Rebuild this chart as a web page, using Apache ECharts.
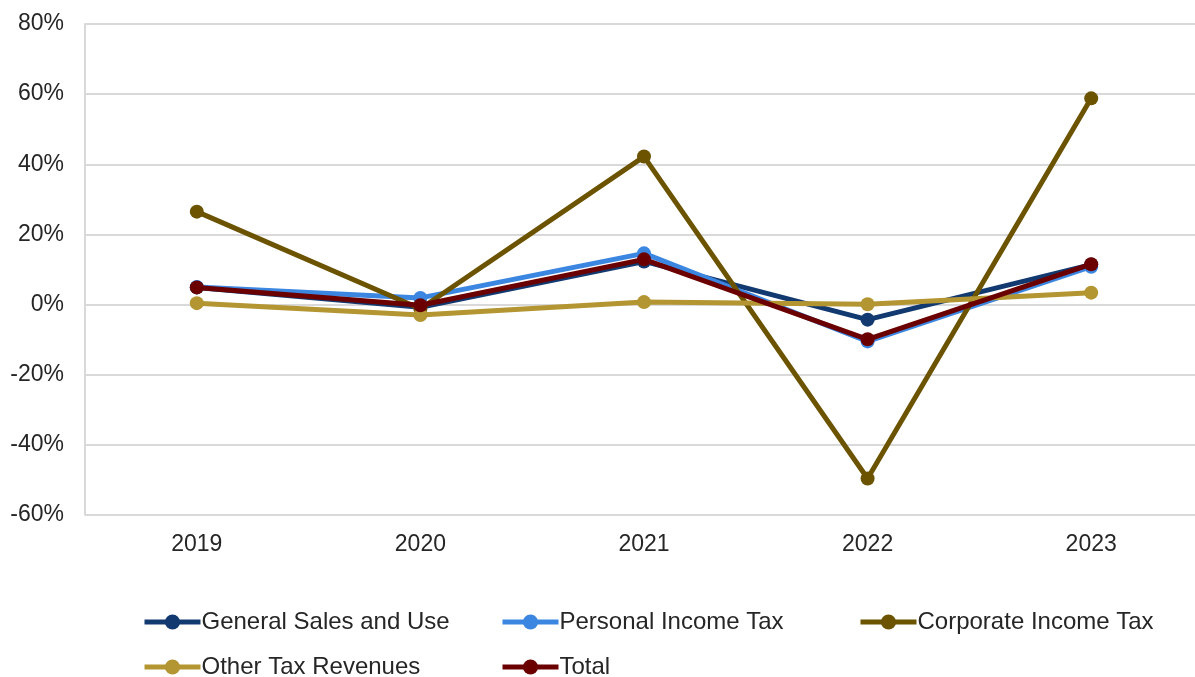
<!DOCTYPE html>
<html><head><meta charset="utf-8">
<script src="https://cdn.jsdelivr.net/npm/echarts@6/dist/echarts.min.js"></script>
<style>html,body{margin:0;padding:0;background:#fff}#c{width:1195px;height:677px}</style>
</head><body><div id="c"></div>
<script>
var categories = ['2019','2020','2021','2022','2023'];
var seriesNames = ['General Sales and Use','Personal Income Tax','Corporate Income Tax','Other Tax Revenues','Total'];
var generalSales = [4.9, -0.8, 12.3, -4.3, 11.4];
var personalIncome = [5.0, 1.9, 14.6, -10.5, 10.8];
var corporateIncome = [26.5, -1.2, 42.2, -49.6, 58.8];
var otherTax = [0.4, -3.0, 0.7, 0.1, 3.4];
var total = [4.9, -0.2, 12.9, -9.9, 11.5];
var yTicks = {min: -60, max: 80, interval: 20};
var colors = ['#123A70', '#3A86E0', '#6B5300', '#B39531', '#6B0000'];
var dataList = [generalSales, personalIncome, corporateIncome, otherTax, total];

var chart = echarts.init(document.getElementById('c'), null, {renderer: 'canvas'});
var series = seriesNames.map(function (n, i) {
  return {
    name: n, type: 'line', data: dataList[i],
    symbol: 'circle', symbolSize: 14,
    lineStyle: {width: 5, color: colors[i]},
    itemStyle: {color: colors[i]},
    z: 2 + i,
    animation: false
  };
});
var legendPos = [[142, 610], [500, 610], [858, 610], [142, 655], [500, 655]];
var legends = seriesNames.map(function (n, i) {
  return {
    data: [n], left: legendPos[i][0], top: legendPos[i][1],
    itemWidth: 56, itemHeight: 19, itemGap: 4,
    lineStyle: {width: 5},
    textStyle: {fontFamily: 'Liberation Sans, Arial', fontSize: 24, color: '#262626', padding: [0,0,0,-4]},
    padding: 0
  };
});
chart.setOption({
  animation: false,
  color: colors,
  grid: {left: 85, top: 24, width: 1118, bottom: 162, containLabel: false, outerBoundsMode: 'none'},
  legend: legends,
  xAxis: {
    type: 'category', data: categories, boundaryGap: true,
    axisLine: {show: false}, axisTick: {show: false},
    axisLabel: {fontFamily: 'Liberation Sans, Arial', fontSize: 23, color: '#262626', margin: 18}
  },
  yAxis: {
    type: 'value', min: yTicks.min, max: yTicks.max, interval: yTicks.interval,
    axisLine: {show: true, lineStyle: {color: '#d9d9d9', width: 2}},
    axisTick: {show: false},
    splitLine: {lineStyle: {color: '#d9d9d9', width: 2}},
    axisLabel: {fontFamily: 'Liberation Sans, Arial', fontSize: 23, color: '#262626', margin: 21,
      formatter: function (v) { return v + '%'; }}
  },
  series: series
});
</script></body></html>
